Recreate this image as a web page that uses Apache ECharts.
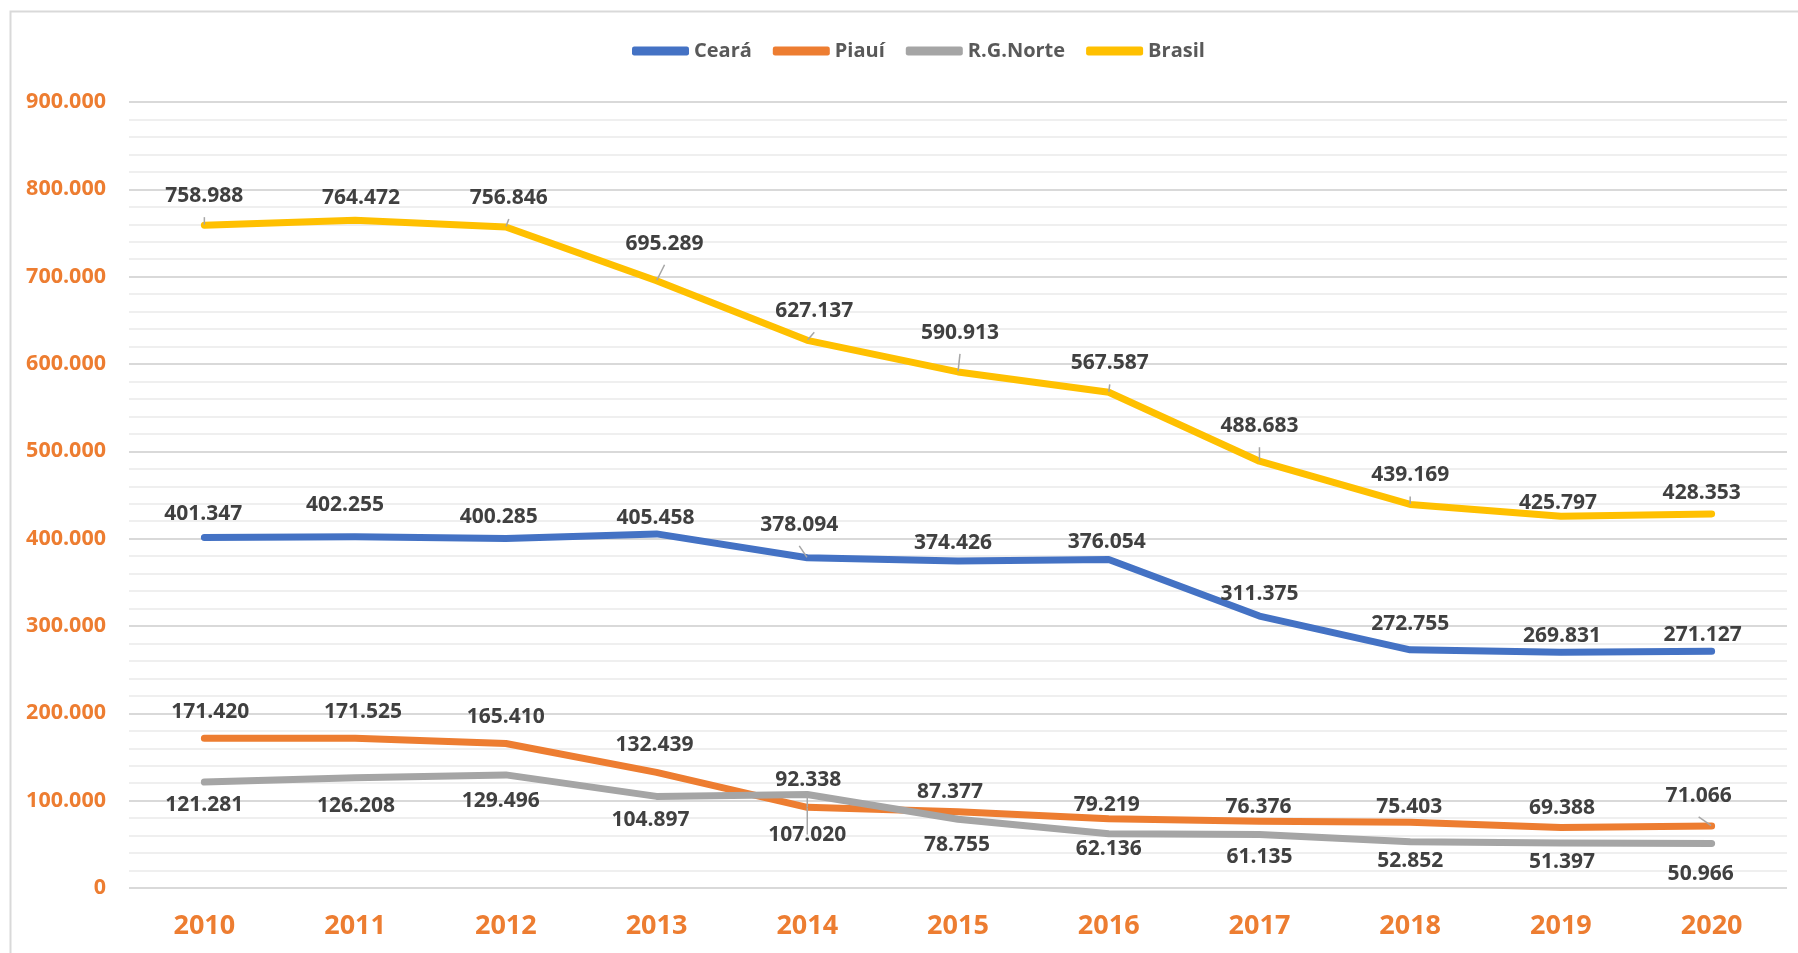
<!DOCTYPE html>
<html>
<head>
<meta charset="utf-8">
<script src="https://cdn.jsdelivr.net/npm/echarts@6/dist/echarts.min.js"></script>
<style>
  html, body { margin: 0; padding: 0; background: #fff; }
  #chart { width: 1798px; height: 953px; }
</style>
</head>
<body>
<div id="chart"></div>
<script>
const years = ['2010', '2011', '2012', '2013', '2014', '2015', '2016', '2017', '2018', '2019', '2020'];
const ceara = [401347, 402255, 400285, 405458, 378094, 374426, 376054, 311375, 272755, 269831, 271127];
const piaui = [171420, 171525, 165410, 132439, 92338, 87377, 79219, 76376, 75403, 69388, 71066];
const rgNorte = [121281, 126208, 129496, 104897, 107020, 78755, 62136, 61135, 52852, 51397, 50966];
const brasil = [758988, 764472, 756846, 695289, 627137, 590913, 567587, 488683, 439169, 425797, 428353];

// small label nudges (px) and leader lines, as the labels were dragged in the original
const cearaNudge = [[-1, 0], [-10, -9], [-7, 2], [-1, 7], [-8, -10], [-5, 5], [-2, 5], [0, 1], [0, -3], [1, 7], [-9, 7]];
const piauiNudge = [[6, -1], [8, -1], [0, -2], [-2, -2], [1, -2], [-8, 5], [-2, 11], [-1, 11], [-1, 10], [1, 6], [-13, -5]];
const rgNorteNudge = [[0, 2], [1, 7], [-5, 5], [-6, 3], [0, 19], [-1, 5], [0, -6], [0, 1], [0, -2], [1, -2], [-11, 10]];
const brasilNudge = [[0, -1], [6, 6], [3, -1], [8, -9], [7, -1], [2, -11], [1, -1], [0, -7], [0, -1], [-3, 15], [-10, 7]];
const cearaLeader = [4];
const piauiLeader = [10];
const rgNorteLeader = [4];
const brasilLeader = [0, 2, 3, 4, 5, 6, 7, 8];

const FONT = '"Open Sans", Lato, sans-serif';

function fmt(v) {
  return String(v).replace(/\B(?=(\d{3})+(?!\d))/g, '.');
}

function lineSeries(name, values, nudge, leader, color, pos, dist) {
  return {
    name: name,
    type: 'line',
    data: values.map((v, i) => ({
      value: v,
      label: { offset: nudge[i] },
      labelLine: { show: leader.indexOf(i) >= 0 }
    })),
    symbol: 'circle',
    symbolSize: 1,
    lineStyle: { width: 7, color: color, cap: 'round', join: 'round' },
    itemStyle: { color: color },
    label: {
      show: true,
      position: pos,
      distance: dist,
      formatter: p => fmt(p.value),
      color: '#404040',
      fontFamily: FONT,
      fontWeight: 'bold',
      fontSize: 21
    },
    labelLine: {
      show: false,
      lineStyle: { color: '#a6a6a6', width: 1.5 }
    },
    emphasis: { disabled: true },
    z: 2
  };
}

const chart = echarts.init(document.getElementById('chart'));

chart.setOption({
  animation: false,
  graphic: [{
    type: 'rect',
    shape: { x: 10.5, y: 11.5, width: 1800, height: 960 },
    style: { fill: 'none', stroke: '#d9d9d9', lineWidth: 2 },
    silent: true
  }],
  legend: {
    top: 36,
    left: 627,
    itemWidth: 57,
    itemHeight: 9,
    itemGap: 21,
    icon: 'roundRect',
    textStyle: { color: '#595959', fontFamily: FONT, fontWeight: 'bold', fontSize: 20 },
    data: ['Ceará', 'Piauí', 'R.G.Norte', 'Brasil']
  },
  grid: { left: 129, right: 11, top: 102, bottom: 65 },
  xAxis: {
    type: 'category',
    data: years,
    axisLine: { show: false },
    axisTick: { show: false },
    axisLabel: { color: '#ED7D31', fontFamily: FONT, fontWeight: 'bold', fontSize: 27, margin: 25 }
  },
  yAxis: {
    type: 'value',
    min: 0,
    max: 900000,
    interval: 100000,
    axisLine: { show: false },
    axisTick: { show: false },
    axisLabel: {
      color: '#ED7D31', fontFamily: FONT, fontWeight: 'bold', fontSize: 21.5, margin: 23,
      formatter: v => fmt(v)
    },
    splitLine: { lineStyle: { color: '#d9d9d9', width: 2 } },
    minorTick: { show: false, splitNumber: 5 },
    minorSplitLine: { show: true, lineStyle: { color: '#efefef', width: 2 } }
  },
  series: [
    lineSeries('Ceará', ceara, cearaNudge, cearaLeader, '#4472C4', 'top', 12),
    lineSeries('Piauí', piaui, piauiNudge, piauiLeader, '#ED7D31', 'top', 14),
    lineSeries('R.G.Norte', rgNorte, rgNorteNudge, rgNorteLeader, '#A5A5A5', 'bottom', 10),
    lineSeries('Brasil', brasil, brasilNudge, brasilLeader, '#FFC000', 'top', 17)
  ]
});
</script>
</body>
</html>
